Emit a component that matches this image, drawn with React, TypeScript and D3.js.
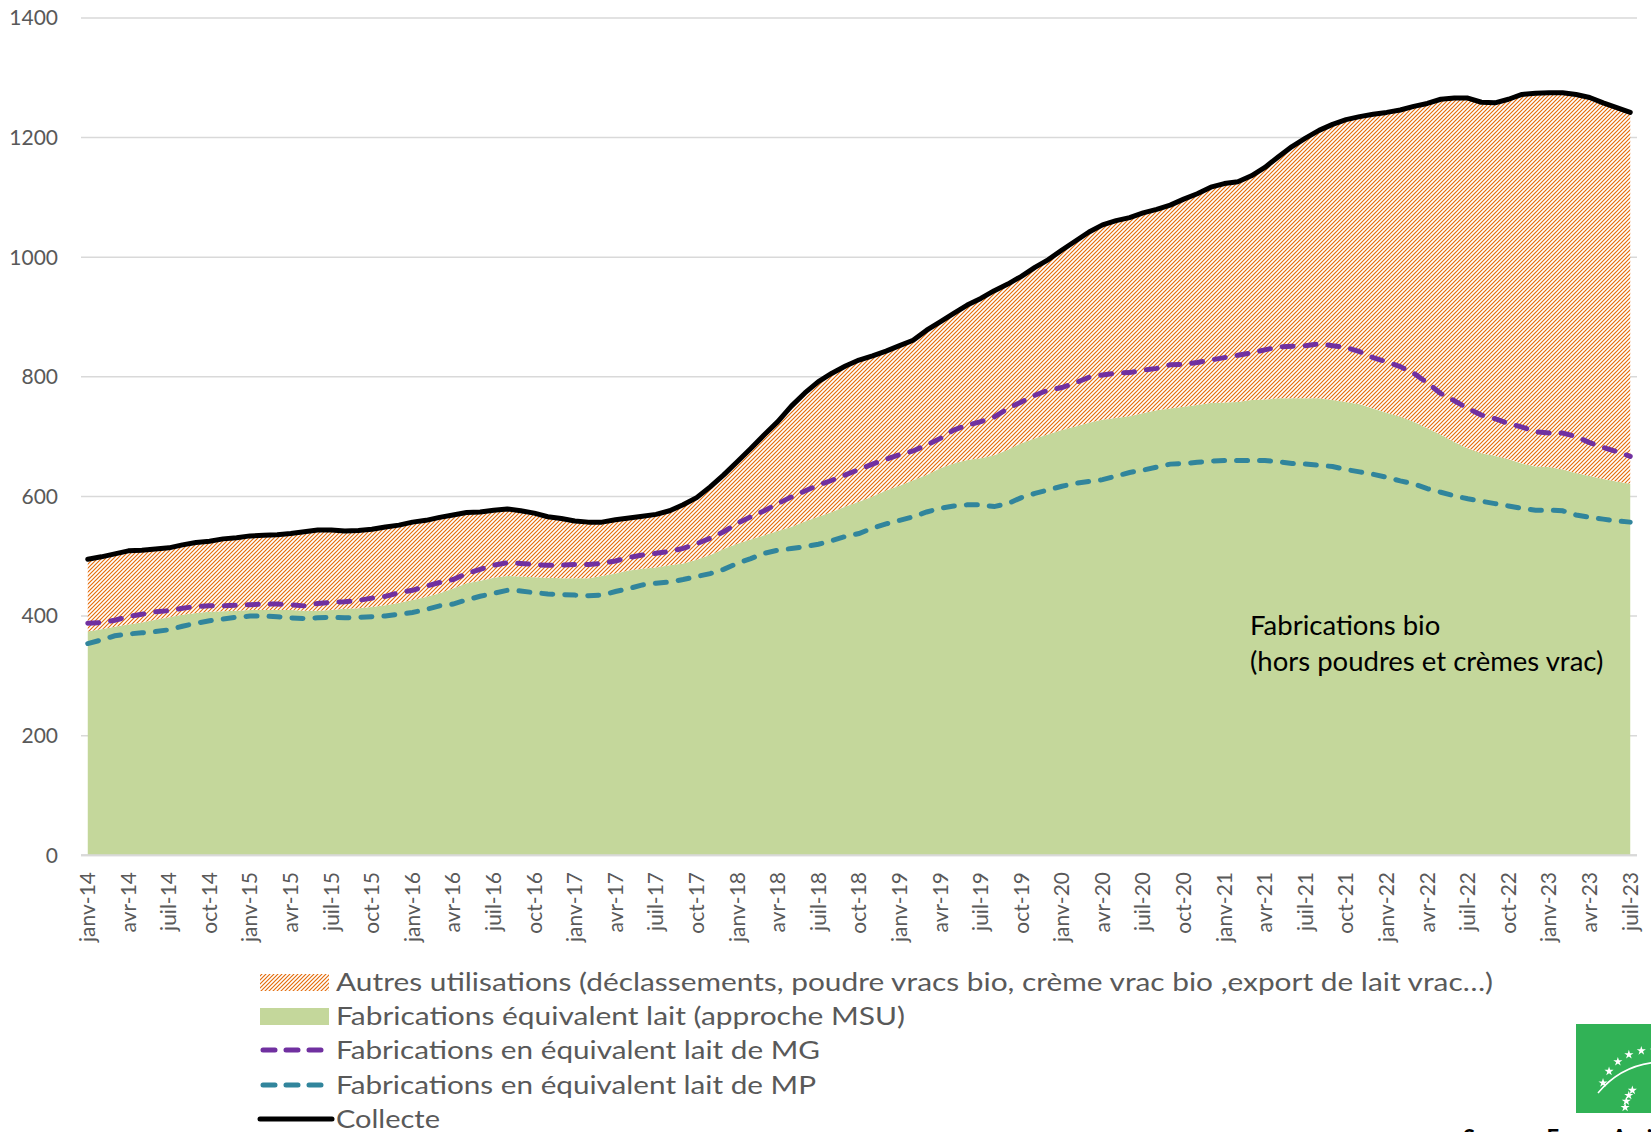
import React, { useEffect } from 'react';
import * as d3 from 'd3';

// ---------- DATA ----------
const monthNames = ['janv', 'févr', 'mars', 'avr', 'mai', 'juin', 'juil', 'août', 'sept', 'oct', 'nov', 'déc'];
// Monthly categories janv-14 .. juil-23 (115 months)
const months: string[] = d3.range(115).map((i) => `${monthNames[i % 12]}-${14 + Math.floor(i / 12)}`);

const yTicks = [0, 200, 400, 600, 800, 1000, 1200, 1400];

// Collecte (black line) = top of the stacked areas
const collecte = [
  495, 499, 504, 509, 510, 512, 514, 519, 523, 525, 529, 531,
  534, 535, 536, 538, 541, 544, 544, 542, 543, 545, 549, 552,
  557, 560, 565, 569, 573, 574, 577, 579, 576, 572, 566, 563,
  559, 557, 557, 561, 564, 567, 570, 576, 586, 598, 616, 636,
  658, 680, 703, 725, 751, 773, 792, 806, 818, 828, 835, 843,
  852, 861, 878, 892, 906, 920, 931, 944, 955, 968, 983, 996,
  1012, 1027, 1042, 1054, 1061, 1066, 1074, 1080, 1087, 1097, 1106, 1117,
  1123, 1126, 1136, 1150, 1168, 1185, 1199, 1212, 1222, 1230, 1235, 1239,
  1242, 1246, 1252, 1257, 1264, 1266, 1266, 1259, 1258, 1264, 1272, 1274,
  1275, 1275, 1272, 1267, 1258, 1250, 1242,
];

// Fabrications équivalent lait (approche MSU) – green area
const msu = [
  374, 378, 382, 386, 389, 394, 398, 402, 405, 407, 408, 409,
  410, 410, 410, 410, 409, 409, 410, 412, 413, 415, 418, 422,
  427, 432, 438, 446, 455, 459, 464, 467, 466, 465, 464, 463,
  463, 463, 467, 471, 476, 479, 481, 485, 488, 494, 502, 512,
  521, 528, 535, 542, 549, 558, 566, 574, 583, 591, 600, 610,
  618, 627, 636, 647, 655, 661, 664, 669, 678, 689, 697, 704,
  711, 717, 723, 728, 731, 734, 739, 744, 747, 750, 753, 756,
  757, 758, 761, 762, 764, 764, 764, 764, 761, 758, 754, 747,
  740, 733, 725, 714, 703, 691, 680, 672, 668, 662, 655, 650,
  649, 645, 639, 634, 629, 625, 621,
];

// Fabrications en équivalent lait de MG – purple dashed
const mg = [
  388, 389, 393, 399, 403, 407, 409, 413, 416, 417, 417, 418,
  419, 420, 420, 419, 417, 421, 423, 424, 426, 430, 433, 439,
  443, 450, 456, 461, 471, 478, 485, 489, 488, 486, 485, 485,
  486, 486, 488, 492, 498, 502, 505, 508, 513, 521, 530, 541,
  555, 566, 576, 588, 599, 609, 619, 627, 636, 645, 654, 662,
  670, 676, 686, 697, 711, 719, 725, 733, 747, 758, 769, 778,
  782, 790, 799, 803, 806, 807, 811, 814, 820, 821, 824, 828,
  832, 836, 840, 845, 850, 851, 852, 855, 852, 849, 842, 832,
  825, 817, 806, 790, 772, 760, 747, 736, 730, 722, 716, 708,
  706, 706, 700, 690, 682, 675, 667,
];

// Fabrications en équivalent lait de MP – teal dashed
const mp = [
  354, 360, 367, 370, 372, 374, 377, 383, 388, 392, 395, 398,
  400, 400, 399, 397, 396, 397, 398, 397, 398, 399, 400, 403,
  406, 411, 417, 420, 427, 433, 438, 443, 442, 439, 437, 436,
  435, 434, 435, 441, 446, 452, 455, 457, 461, 466, 471, 478,
  488, 496, 505, 510, 513, 516, 520, 526, 533, 538, 547, 554,
  560, 566, 574, 580, 584, 586, 586, 583, 588, 598, 605, 611,
  617, 622, 625, 628, 634, 640, 644, 649, 654, 655, 657, 659,
  660, 660, 660, 660, 658, 655, 654, 652, 650, 645, 641, 637,
  632, 626, 621, 613, 607, 601, 596, 592, 588, 584, 580, 577,
  577, 576, 569, 565, 562, 559, 557,
];

const legendLabels = [
  'Autres utilisations (déclassements, poudre vracs bio, crème vrac bio ,export de lait vrac…)',
  'Fabrications équivalent lait (approche MSU)',
  'Fabrications en équivalent lait de MG',
  'Fabrications en équivalent lait de MP',
  'Collecte',
];
const legendWidths = [1157, 569, 484, 480, 104];

const annotation = ['Fabrications bio', '(hors poudres et crèmes vrac)'];

// ---------- STYLE ----------
const FONT = 'Lato, "Open Sans", sans-serif';
const GREY = '#595959';
const GRID = '#D9D9D9';
const GREEN = '#C4D79B';
const ORANGE = '#E46C0A';
const PURPLE = '#7030A0';
const TEAL = '#31859C';

export default function App() {
  useEffect(() => {
    document.body.style.margin = '0';
  }, []);

  const W = 1651;
  const H = 1132;
  const left = 81;
  const right = 1637;
  const top = 17.9;
  const bottom = 855.3;

  const x = d3.scaleBand<string>().domain(months).range([left, right]).paddingInner(0).paddingOuter(0);
  const bw = x.bandwidth();
  const cx = (i: number) => (x(months[i]) as number) + bw / 2;
  const y = d3.scaleLinear().domain([0, 1400]).range([bottom, top]);

  const table = months.map((m, i) => ({ m, msu: msu[i], autres: collecte[i] - msu[i] }));
  const series = d3.stack<any>().keys(['msu', 'autres'])(table);

  const area = d3
    .area<any>()
    .x((_d, i) => cx(i))
    .y0((d) => y(d[0]))
    .y1((d) => y(d[1]));

  const lineGen = d3
    .line<number>()
    .x((_d, i) => cx(i))
    .y((d) => y(d));

  const legendY = [982, 1016, 1050, 1085, 1119];
  const legX0 = 260;
  const legX1 = 329;
  const legTextX = 336;

  // EU organic logo stars (decorative)
  const starPath = d3.symbol(d3.symbolStar, 26)() as string;
  const starArc = d3.range(9).map((k) => {
    const a = (-160 + k * 15) * (Math.PI / 180);
    return [1650 + 50 * Math.cos(a), 1100 + 50 * Math.sin(a)];
  });
  const starArc2 = d3.range(4).map((k) => {
    const a = (-175 + k * 12) * (Math.PI / 180);
    return [1650 + 30 * Math.cos(a) + 5, 1110 + 30 * Math.sin(a)];
  });

  return (
    <svg
      width={W}
      height={H}
      style={{ position: 'absolute', left: 0, top: 0, background: '#fff' }}
      fontFamily={FONT}
    >
      <defs>
        <pattern id="hatch" patternUnits="userSpaceOnUse" width="4" height="4">
          <rect width="4" height="4" fill="#fff" />
          <path d="M-1,1 l2,-2 M0,4 l4,-4 M3,5 l2,-2" stroke={ORANGE} strokeWidth="1.15" />
        </pattern>
        <clipPath id="pageClip">
          <rect x="0" y="0" width={W} height={H} />
        </clipPath>
      </defs>

      {/* gridlines */}
      {yTicks.map((t) => (
        <line
          key={t}
          x1={left}
          x2={right}
          y1={y(t)}
          y2={y(t)}
          stroke={GRID}
          strokeWidth={t === 0 ? 2 : 1.5}
        />
      ))}

      {/* y tick labels */}
      {yTicks.map((t) => (
        <text key={'yl' + t} x={58} y={y(t)} dy="0.35em" textAnchor="end" fontSize={21} fill={GREY}>
          {t}
        </text>
      ))}

      {/* stacked areas */}
      <path d={area(series[0] as any) as string} fill={GREEN} />
      <path d={area(series[1] as any) as string} fill="url(#hatch)" />
      <line x1={left} x2={right} y1={y(0)} y2={y(0)} stroke={GRID} strokeWidth={2} />

      {/* lines */}
      <path
        d={lineGen(mp) as string}
        fill="none"
        stroke={TEAL}
        strokeWidth={5}
        strokeDasharray="11 12"
        strokeLinecap="round"
      />
      <path
        d={lineGen(mg) as string}
        fill="none"
        stroke={PURPLE}
        strokeWidth={5}
        strokeDasharray="11 12"
        strokeLinecap="round"
      />
      <path
        d={lineGen(collecte) as string}
        fill="none"
        stroke="#000"
        strokeWidth={5}
        strokeLinejoin="round"
        strokeLinecap="round"
      />

      {/* x tick labels */}
      {months.map((m, i) =>
        i % 3 === 0 ? (
          <text
            key={m}
            transform={`translate(${cx(i)},${872}) rotate(-90)`}
            dy="0.35em"
            textAnchor="end"
            fontSize={21}
            fill={GREY}
          >
            {m}
          </text>
        ) : null
      )}

      {/* annotation */}
      {annotation.map((t, k) => (
        <text key={t} x={1250} y={625 + k * 36} dy="0.35em" fontSize={27.5} fill="#000">
          {t}
        </text>
      ))}

      {/* legend */}
      <rect x={legX0} y={legendY[0] - 8} width={legX1 - legX0} height={17} fill="url(#hatch)" />
      <rect x={legX0} y={legendY[1] - 8} width={legX1 - legX0} height={17} fill={GREEN} />
      <line
        x1={legX0 + 3}
        x2={legX1 - 3}
        y1={legendY[2]}
        y2={legendY[2]}
        stroke={PURPLE}
        strokeWidth={5}
        strokeDasharray="12 11"
        strokeLinecap="round"
      />
      <line
        x1={legX0 + 3}
        x2={legX1 - 3}
        y1={legendY[3]}
        y2={legendY[3]}
        stroke={TEAL}
        strokeWidth={5}
        strokeDasharray="12 11"
        strokeLinecap="round"
      />
      <line x1={legX0} x2={legX1 + 3} y1={legendY[4]} y2={legendY[4]} stroke="#000" strokeWidth={5} strokeLinecap="round" />
      {legendLabels.map((t, k) => (
        <text
          key={t}
          x={legTextX}
          y={legendY[k]}
          dy="0.35em"
          fontSize={25}
          fill={GREY}
          textLength={legendWidths[k]}
          lengthAdjust="spacingAndGlyphs"
        >
          {t}
        </text>
      ))}

      {/* EU organic logo (partly cut by the page edge) */}
      <g clipPath="url(#pageClip)">
        <rect x={1576} y={1024} width={90} height={89} fill="#31B256" />
        <path d="M1598,1093 Q1622,1064 1660,1062" fill="none" stroke="#fff" strokeWidth={1.5} />
        {starArc.map(([sx, sy], k) => (
          <path key={k} d={starPath} transform={`translate(${sx},${sy})`} fill="#fff" />
        ))}
        {starArc2.map(([sx, sy], k) => (
          <path key={'b' + k} d={starPath} transform={`translate(${sx},${sy})`} fill="#fff" />
        ))}
        <text x={1463} y={1146} fontSize={22} fontWeight="bold" fill="#000">
          Source : FranceAgriMer
        </text>
      </g>
    </svg>
  );
}
